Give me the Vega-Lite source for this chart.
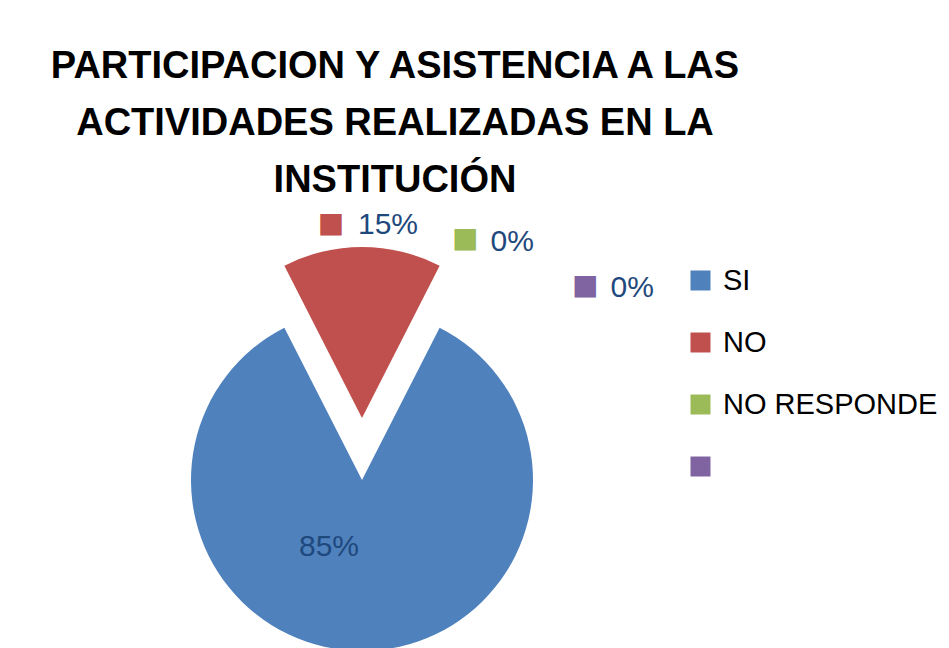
{
  "$schema": "https://vega.github.io/schema/vega-lite/v6.json",
  "width": 724,
  "height": 540,
  "autosize": {"type": "none"},
  "padding": {"left": 0, "top": 210, "right": 225, "bottom": 0},
  "background": "white",
  "view": {"stroke": null},
  "title": {
    "text": ["PARTICIPACION Y ASISTENCIA A LAS", "ACTIVIDADES REALIZADAS EN LA", "INSTITUCIÓN"],
    "font": "Liberation Sans",
    "fontSize": 38,
    "fontWeight": "bold",
    "color": "#000000",
    "lineHeight": 57,
    "anchor": "middle",
    "dx": 33,
    "offset": 10
  },
  "data": {
    "values": [
      {"respuesta": "SI", "porcentaje": 85, "orden": 1},
      {"respuesta": "NO", "porcentaje": 15, "orden": 2},
      {"respuesta": "NO RESPONDE", "porcentaje": 0, "orden": 3},
      {"respuesta": "", "porcentaje": 0, "orden": 4}
    ]
  },
  "transform": [
    {"stack": "porcentaje", "groupby": [], "sort": [{"field": "orden", "order": "ascending"}], "as": ["p0", "p1"]},
    {"calculate": "(datum.p0 + datum.p1) / 2", "as": "pmid"},
    {"calculate": "datum.porcentaje + '%'", "as": "etiqueta"}
  ],
  "layer": [
    {
      "transform": [{"filter": "datum.respuesta != 'NO'"}],
      "mark": {"type": "arc", "outerRadius": 171},
      "encoding": {
        "theta": {"field": "p0", "type": "quantitative", "scale": {"domain": [0, 100], "range": [0.4712, 6.7544]}},
        "theta2": {"field": "p1"},
        "color": {
          "field": "respuesta",
          "type": "nominal",
          "scale": {"domain": ["SI", "NO", "NO RESPONDE", ""], "range": ["#4F81BD", "#C0504D", "#9BBB59", "#8064A2"]},
          "legend": {
            "title": null,
            "orient": "none",
            "legendX": 686,
            "legendY": 56,
            "symbolType": "square",
            "symbolSize": 400,
            "symbolStrokeWidth": 0,
            "labelFont": "Liberation Sans",
            "labelFontSize": 29,
            "labelColor": "#000000",
            "labelOffset": 8,
            "labelLimit": 400,
            "rowPadding": 32,
            "padding": 0
          }
        }
      }
    },
    {
      "transform": [{"filter": "datum.respuesta == 'NO'"}],
      "mark": {"type": "arc", "outerRadius": 171, "yOffset": -62},
      "encoding": {
        "theta": {"field": "p0", "type": "quantitative"},
        "theta2": {"field": "p1"},
        "color": {"field": "respuesta", "type": "nominal"}
      }
    },
    {
      "transform": [{"filter": "datum.respuesta == 'SI'"}],
      "mark": {"type": "text", "radius": 76, "dx": -33, "dy": -9, "font": "Liberation Sans", "fontSize": 30, "color": "#1F497D", "align": "center", "baseline": "middle"},
      "encoding": {"theta": {"field": "pmid", "type": "quantitative"}, "text": {"field": "etiqueta"}}
    },
    {
      "transform": [{"filter": "datum.respuesta == 'NO'"}],
      "mark": {"type": "text", "radius": 255, "dx": 26, "dy": 0, "font": "Liberation Sans", "fontSize": 30, "color": "#1F497D", "align": "center", "baseline": "middle"},
      "encoding": {"theta": {"field": "pmid", "type": "quantitative"}, "text": {"field": "etiqueta"}}
    },
    {
      "transform": [{"filter": "datum.respuesta == 'NO'"}],
      "mark": {"type": "text", "radius": 255, "dx": -31, "dy": -1, "font": "DejaVu Sans", "fontSize": 28, "align": "center", "baseline": "middle", "text": "■"},
      "encoding": {"theta": {"field": "pmid", "type": "quantitative"}, "color": {"field": "respuesta", "type": "nominal", "legend": null}}
    },
    {
      "transform": [{"filter": "datum.respuesta == 'NO RESPONDE'"}],
      "mark": {"type": "text", "radius": 267, "dx": 29, "dy": 0, "font": "Liberation Sans", "fontSize": 30, "color": "#1F497D", "align": "center", "baseline": "middle"},
      "encoding": {"theta": {"field": "pmid", "type": "quantitative"}, "text": {"field": "etiqueta"}}
    },
    {
      "transform": [{"filter": "datum.respuesta == 'NO RESPONDE'"}],
      "mark": {"type": "text", "radius": 267, "dx": -18, "dy": -3, "font": "DejaVu Sans", "fontSize": 28, "align": "center", "baseline": "middle", "text": "■"},
      "encoding": {"theta": {"field": "pmid", "type": "quantitative"}, "color": {"field": "respuesta", "type": "nominal", "legend": null}}
    },
    {
      "transform": [{"filter": "datum.respuesta == ''"}],
      "mark": {"type": "text", "radius": 267, "dx": 149, "dy": 46, "font": "Liberation Sans", "fontSize": 30, "color": "#1F497D", "align": "center", "baseline": "middle"},
      "encoding": {"theta": {"field": "pmid", "type": "quantitative"}, "text": {"field": "etiqueta"}}
    },
    {
      "transform": [{"filter": "datum.respuesta == ''"}],
      "mark": {"type": "text", "radius": 267, "dx": 102, "dy": 44, "font": "DejaVu Sans", "fontSize": 28, "align": "center", "baseline": "middle", "text": "■"},
      "encoding": {"theta": {"field": "pmid", "type": "quantitative"}, "color": {"field": "respuesta", "type": "nominal", "legend": null}}
    }
  ]
}
